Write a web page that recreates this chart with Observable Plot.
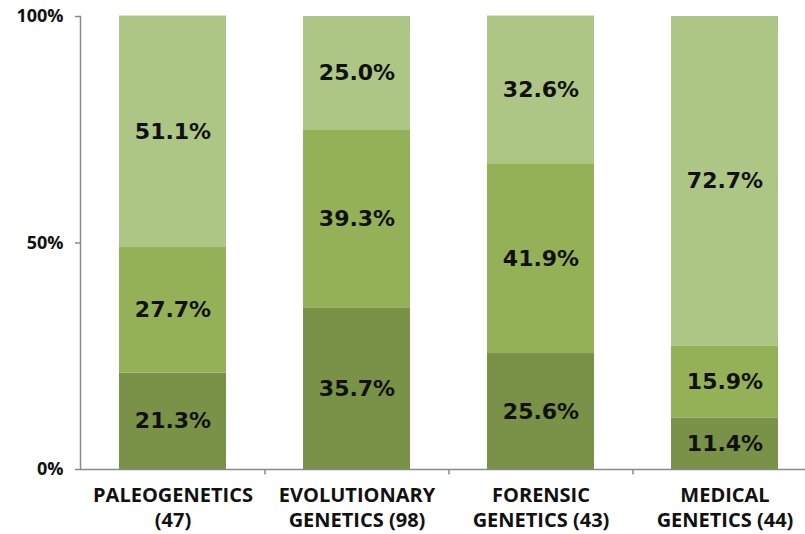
<!DOCTYPE html>
<html>
<head>
<meta charset="utf-8">
<script src="https://cdn.jsdelivr.net/npm/d3@7"></script>
<script src="https://cdn.jsdelivr.net/npm/@observablehq/plot@0.6"></script>
<style>
  html, body { margin: 0; padding: 0; background: #fff; overflow: hidden; }
</style>
</head>
<body>
<div id="chart"></div>
<script>
const categories = ["PALEOGENETICS\n(47)", "EVOLUTIONARY\nGENETICS (98)", "FORENSIC\nGENETICS (43)", "MEDICAL\nGENETICS (44)"];
const segments = ["bottom", "middle", "top"];
const bottomValues = [21.3, 35.7, 25.6, 11.4];
const middleValues = [27.7, 39.3, 41.9, 15.9];
const topValues = [51.1, 25.0, 32.6, 72.7];
const yTicks = [0, 50, 100];
const segmentColors = ["#7a9248", "#95b158", "#adc686"];

const seriesValues = [bottomValues, middleValues, topValues];
const data = [];
categories.forEach((c, i) => {
  segments.forEach((s, j) => {
    data.push({category: c, segment: s, value: seriesValues[j][i]});
  });
});

const chart = Plot.plot({
  width: 805,
  height: 534,
  marginLeft: 80,
  marginRight: -11,
  marginTop: 16,
  marginBottom: 65,
  style: {fontFamily: "'Open Sans', sans-serif", fontWeight: "bold", color: "#111", background: "#fff"},
  x: {domain: categories, paddingInner: 0.42, paddingOuter: 0.21, label: null},
  y: {domain: [0, 100], label: null},
  color: {domain: segments, range: segmentColors},
  marks: [
    Plot.barY(data, Plot.stackY({x: "category", y: "value", z: "segment", fill: "segment", order: segments})),
    Plot.text(data, Plot.stackY({x: "category", y: "value", z: "segment", order: segments, text: d => d.value.toFixed(1) + "%", fontSize: 22, fontWeight: "bold", fontFamily: "'DejaVu Sans', sans-serif", fill: "#111"})),
    Plot.frame({anchor: "left", stroke: "#8a8a8a", strokeWidth: 1.5}),
    Plot.ruleY([0], {stroke: "#8a8a8a", strokeWidth: 1.5}),
    Plot.ruleX(categories.slice(0, 3), {x: d => d, dx: 92, y1: 0, y2: -1.2, stroke: "#8a8a8a", strokeWidth: 1.5}),
    Plot.axisY({ticks: yTicks, tickFormat: d => d + "%", tickSize: 5, tickPadding: 12, fontSize: 18, stroke: "#8a8a8a", strokeWidth: 1.5, fill: "#111", label: null}),
    Plot.axisX({tickSize: 0, tickPadding: 15, fontSize: 20, lineHeight: 1.25, fill: "#111", label: null})
  ]
});
document.getElementById("chart").appendChild(chart);
</script>
</body>
</html>
